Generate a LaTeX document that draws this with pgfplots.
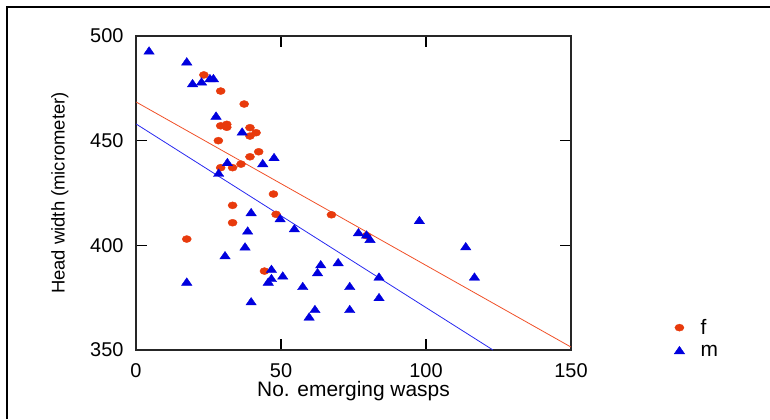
\documentclass[border=0pt]{standalone}
\usepackage{pgfplots}
\pgfplotsset{compat=1.18}
\usepackage{fontspec}
\setmainfont{Liberation Sans}
\definecolor{fred}{RGB}{232,58,12}
\definecolor{mblue}{RGB}{0,0,222}
\definecolor{lred}{RGB}{240,80,40}
\definecolor{lblue}{RGB}{40,40,240}
\begin{document}
\begin{tikzpicture}[x=1bp,y=1bp]
\useasboundingbox (0,0) rectangle (770,419);
\draw[line width=1.5bp] (7,0) -- (7,412) -- (770,412);
\begin{axis}[
  at={(136bp,69bp)}, anchor=south west,
  scale only axis, width=435bp, height=314bp,
  xmin=0, xmax=150, ymin=350, ymax=500,
  xtick={0,50,100,150}, ytick={350,400,450,500},
  tick align=inside, major tick length=11bp,
  axis line style={line width=1.5bp, black!85},
  tick style={line width=1.2bp, black},
  /pgf/number format/assume math mode=true,
  ticklabel style={font=\fontsize{20}{24}\selectfont},
  xticklabel style={yshift=-10bp},
  yticklabel style={xshift=-9bp},
  xlabel={No. emerging wasps},
  ylabel={Head width (micrometer)},
  xlabel style={font=\fontsize{21}{24}\selectfont, yshift=3bp},
  ylabel style={font=\fontsize{18.5}{22}\selectfont, yshift=15bp},
  legend style={draw=none, fill=none, at={(1.23,0.0366)}, anchor=west,
    font=\fontsize{21}{22}\selectfont, row sep=5bp, column sep=14bp},
  legend cell align=left,
]
\addplot[only marks, mark=*, color=fred, mark size=3.5bp, mark options={xscale=1.3}] coordinates {
(23.4,481.4) (29.2,473.7) (37.3,467.5) (29.2,457.1) (31.3,457.8) (31.3,456.4)
(39.3,456.2) (41.4,453.8) (39.3,452.2) (28.4,450) (42.3,444.7) (39.3,442.3)
(36.2,438.8) (29.2,437.1) (33.3,437.1) (47.4,424.5) (33.3,419.1) (48.3,414.8)
(33.3,410.8) (67.4,414.6) (17.5,403) (44.3,387.7) (79.5,404.6)
};
\addlegendentry{f}
\addplot[only marks, mark=triangle*, color=mblue, mark size=5bp, mark options={xscale=1.2}] coordinates {
(4.5,492.5) (17.5,487.3) (19.5,476.9) (22.6,477.7) (25.5,479.3) (26.7,479.3)
(27.6,461.4) (36.6,453.8) (31.5,439.2) (28.5,434.1) (43.7,438.7) (47.6,441.6)
(39.7,415.3) (49.7,412.4) (54.6,407.6) (38.5,406.5) (37.6,398.9) (30.7,394.7)
(17.5,382.1) (46.7,388.2) (46.7,383.8) (45.6,382.1) (50.6,385) (63.7,390.4)
(62.6,386.6) (69.7,391.4) (57.5,380) (73.7,380) (39.7,372.7) (61.7,369)
(59.7,365.4) (73.7,369) (76.7,405.7) (79.5,404.6) (80.7,402.5) (97.7,411.5)
(113.7,399) (116.7,384.5) (83.8,384.5) (83.8,374.7)
};
\addlegendentry{m}
\addplot[lred, line width=0.8bp, forget plot] coordinates {(0,468.5) (150,351.4)};
\addplot[lblue, line width=0.8bp, forget plot] coordinates {(0,458) (123.1,350)};
\end{axis}
\end{tikzpicture}
\end{document}
